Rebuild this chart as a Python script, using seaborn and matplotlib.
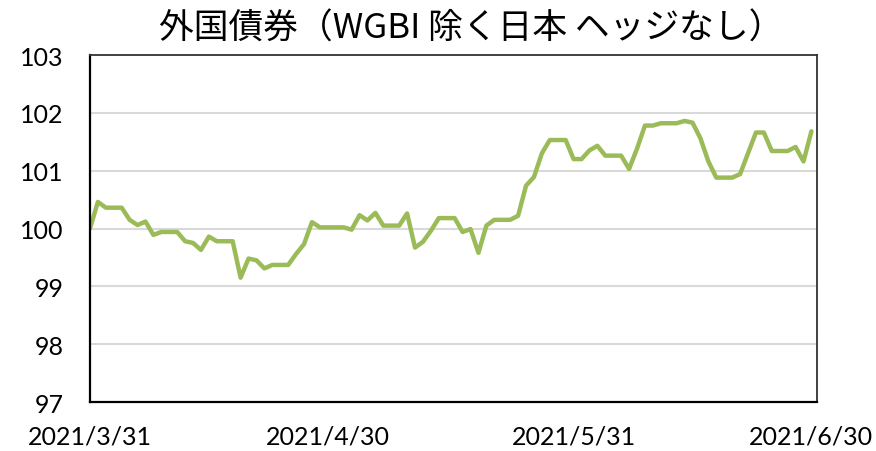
import matplotlib
matplotlib.use('Agg')
import matplotlib.pyplot as plt
import numpy as np
import pandas as pd
import seaborn as sns

# daily values (weekends carry the Friday value), 2021/3/31 .. 2021/6/30
start_date = '2021-03-31'
end_date = '2021-06-30'
values = [
    100.00, 100.46, 100.36, 100.36, 100.36, 100.15, 100.06, 100.12, 99.89, 99.94,
    99.94, 99.94, 99.78, 99.75, 99.63, 99.86, 99.78, 99.78, 99.78, 99.15,
    99.48, 99.45, 99.31, 99.37, 99.37, 99.37, 99.56, 99.73, 100.11, 100.02,
    100.02, 100.02, 100.02, 99.98, 100.23, 100.14, 100.27, 100.05, 100.05, 100.05,
    100.26, 99.67, 99.77, 99.96, 100.18, 100.18, 100.18, 99.94, 99.99, 99.58,
    100.05, 100.15, 100.15, 100.15, 100.22, 100.74, 100.89, 101.30, 101.53, 101.53,
    101.53, 101.20, 101.20, 101.35, 101.43, 101.26, 101.26, 101.26, 101.03, 101.38,
    101.78, 101.78, 101.82, 101.82, 101.82, 101.86, 101.83, 101.56, 101.16, 100.88,
    100.88, 100.88, 100.94, 101.30, 101.66, 101.66, 101.34, 101.34, 101.34, 101.41,
    101.16, 101.68,
]
tick_dates = ['2021-03-31', '2021-04-30', '2021-05-31', '2021-06-30']
tick_labels = ['2021/3/31', '2021/4/30', '2021/5/31', '2021/6/30']
y_ticks = [97, 98, 99, 100, 101, 102, 103]
title = '外国債券（WGBI 除く日本 ヘッジなし）'

dates = pd.date_range(start_date, end_date, freq='D')
df = pd.DataFrame({'date': dates, 'value': values})

sns.set_theme(style='white')
plt.rcParams['font.family'] = ['Lato', 'Noto Sans CJK JP', 'DejaVu Sans']

fig = plt.figure(figsize=(8.76, 4.52), dpi=100)
ax = fig.add_axes([0.1027, 0.1084, 0.8300, 0.7677])

for y in y_ticks[1:-1]:
    ax.axhline(y, color='#D9D9D9', linewidth=1.5, zorder=0)

sns.lineplot(data=df, x='date', y='value', ax=ax, color='#9BBB59', linewidth=3.2)

ax.set_ylim(97, 103)
ax.set_yticks(y_ticks)
ax.set_xlim(pd.Timestamp(start_date), pd.Timestamp(end_date) + pd.Timedelta(hours=17))
ax.set_xticks([pd.Timestamp(d) for d in tick_dates])
ax.set_xticklabels(tick_labels)
ax.set_xlabel('')
ax.set_ylabel('')
ax.grid(False)

ax.tick_params(axis='y', direction='in', length=7, width=1.3, pad=19, labelsize=18, colors='black')
ax.tick_params(axis='x', direction='in', length=7, width=1, pad=16, labelsize=18, colors='black')

for side in ['left', 'bottom']:
    ax.spines[side].set_color('black')
    ax.spines[side].set_linewidth(1.6)
for side in ['top', 'right']:
    ax.spines[side].set_color('#333333')
    ax.spines[side].set_linewidth(1.3)

fig.suptitle(title, x=0.538, y=0.936, fontsize=25, family=['Noto Sans CJK JP', 'DejaVu Sans'],
             va='center', color='black')

fig.savefig('out.png', dpi=100)
